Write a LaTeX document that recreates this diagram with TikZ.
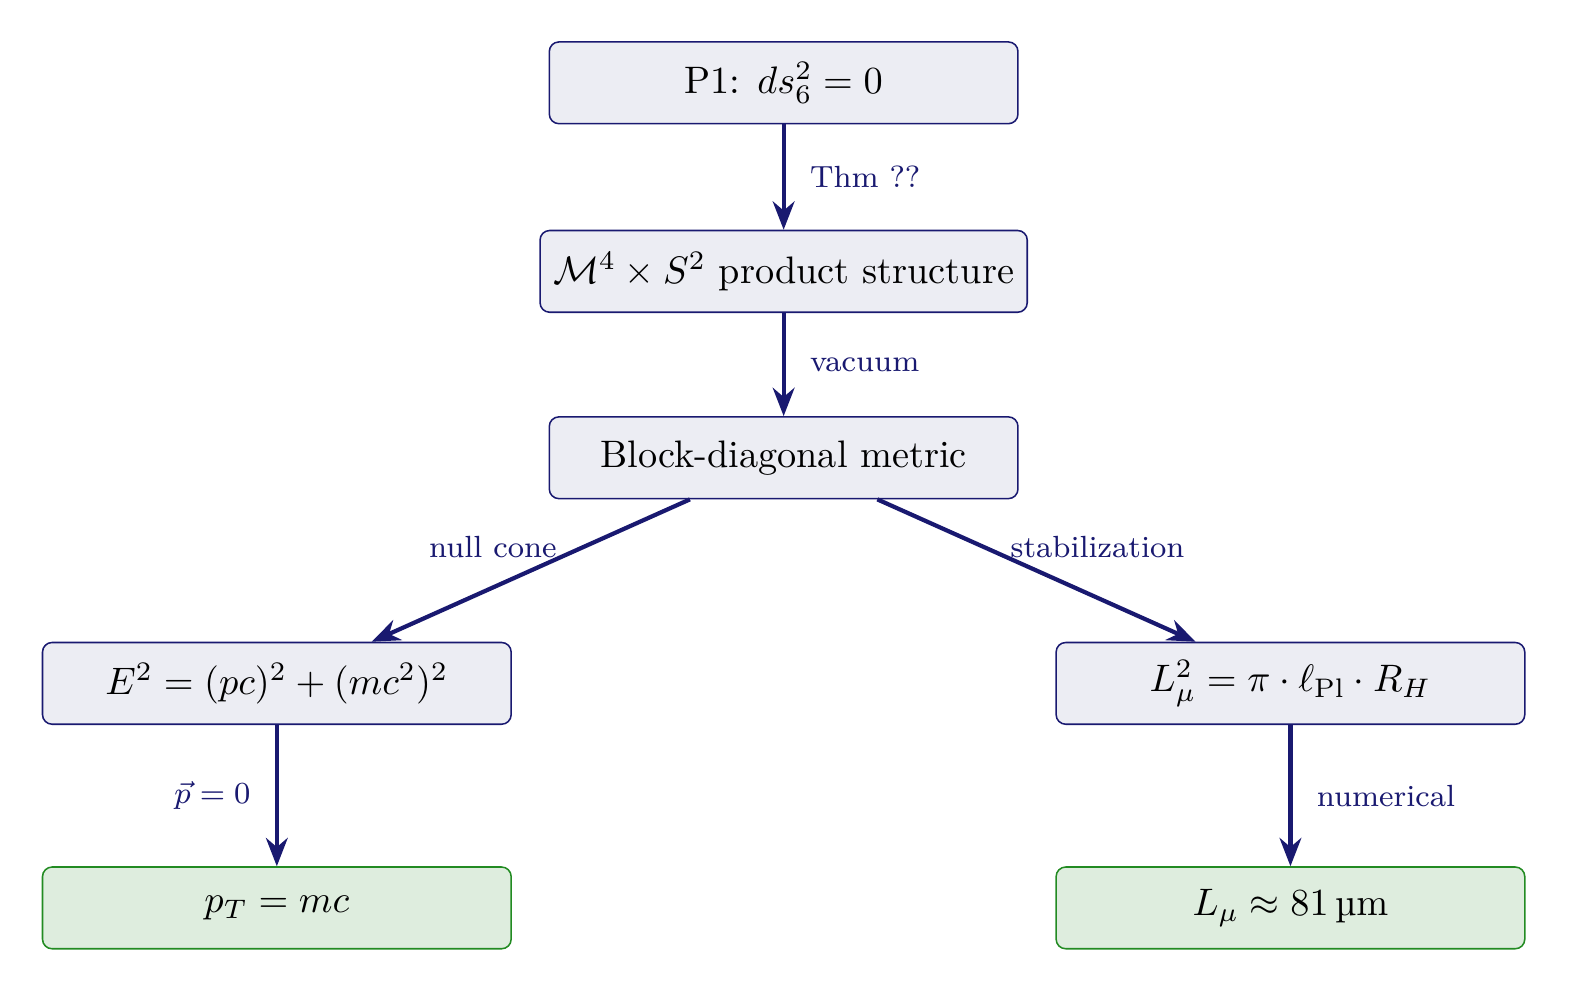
\documentclass[tikz,border=0pt]{standalone}
\usepackage{amsmath,amssymb,siunitx}
\usetikzlibrary{arrows.meta}
\definecolor{nv}{RGB}{25,25,112}
\definecolor{bfill}{RGB}{236,237,243}
\definecolor{gfill}{RGB}{222,237,222}
\definecolor{gdraw}{RGB}{34,139,34}
\begin{document}
\begin{tikzpicture}[
  box/.style={draw=nv,fill=bfill,rounded corners=2.5pt,minimum width=4.3cm,minimum height=0.75cm,inner sep=2pt},
  res/.style={box,draw=gdraw,fill=gfill},
  arr/.style={-{Stealth[length=2.6mm,width=2mm]},draw=nv,line width=1.1pt},
  lab/.style={font=\footnotesize,text=nv}]
\useasboundingbox (0,0) rectangle (14.46,9.15);
\node[box] (p1) at (7.19,8.39) {P1: $ds_6^2=0$};
\node[box,minimum width=4.47cm] (ps) at (7.19,6.66) {$\mathcal{M}^4\times S^2$ product structure};
\node[box] (bd) at (7.19,4.95) {Block-diagonal metric};
\node[box] (ed) at (2.54,2.88) {$E^2=(pc)^2+(mc^2)^2$};
\node[box] (lm) at (11.84,2.88) {$L_\mu^2=\pi\cdot\ell_{\mathrm{Pl}}\cdot R_H$};
\node[res] (pt) at (2.54,0.82) {$p_T=mc$};
\node[res] (lr) at (11.84,0.82) {$L_\mu\approx\SI{81}{\micro\metre}$};
\draw[arr] (p1) -- node[lab,right,xshift=3pt]{Thm ??} (ps);
\draw[arr] (ps) -- node[lab,right,xshift=3pt]{vacuum} (bd);
\draw[arr] ([xshift=-0.86cm]bd.south) -- node[lab,above left,pos=0.3,xshift=-6pt,yshift=-8pt]{null cone} ([xshift=0.87cm]ed.north);
\draw[arr] ([xshift=0.86cm]bd.south) -- node[lab,above right,pos=0.3,xshift=6pt,yshift=-8pt]{stabilization} ([xshift=-0.87cm]lm.north);
\draw[arr] (ed) -- node[lab,left,xshift=-3pt]{$\vec p=0$} (pt);
\draw[arr] (lm) -- node[lab,right,xshift=3pt]{numerical} (lr);
\end{tikzpicture}
\end{document}
